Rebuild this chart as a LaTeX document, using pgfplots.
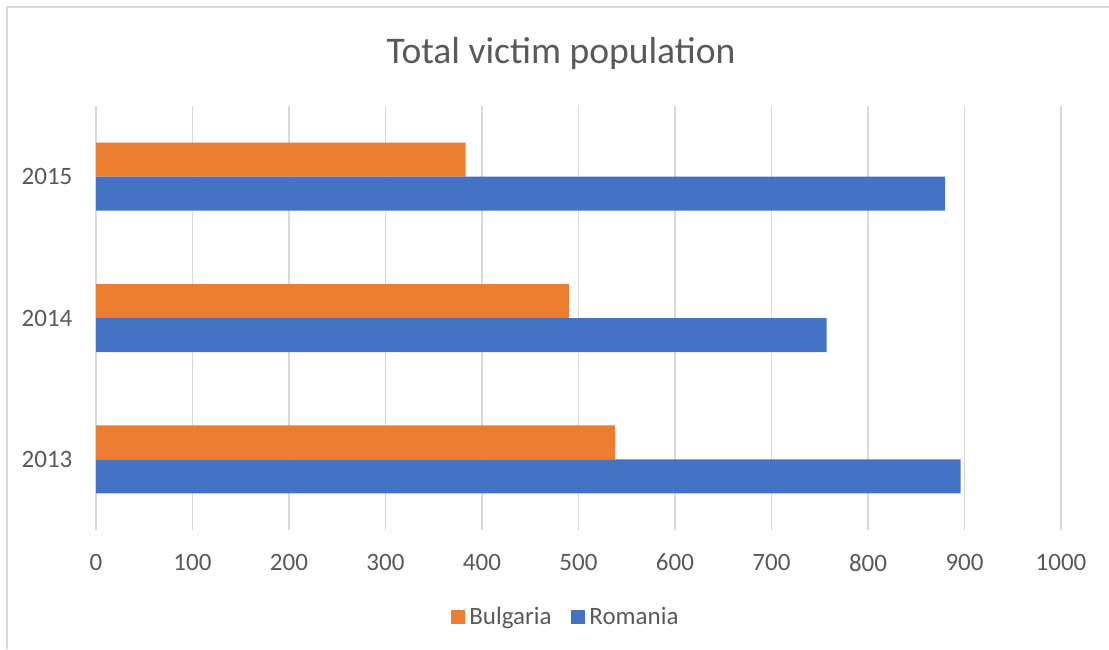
\documentclass[border=0pt]{standalone}
\usepackage{pgfplots}
\pgfplotsset{compat=1.18}
\usepackage{fontspec}
\setmainfont{Carlito}
\definecolor{bulg}{HTML}{ED7D31}
\definecolor{roma}{HTML}{4472C4}
\definecolor{txt}{HTML}{595959}
\definecolor{grd}{HTML}{D9D9D9}
\begin{document}
\begin{tikzpicture}
\path[use as bounding box] (0,0) rectangle (554.5pt,324.5pt);
\draw[grd, line width=0.75pt] (3.5pt,0) -- (3.5pt,321pt) -- (560pt,321pt);
\node[text=txt, font=\fontsize{18.8}{22}\selectfont] at (280.5pt,298pt) {Total victim population};
\begin{axis}[
  at={(48pt,59.5pt)}, anchor=south west,
  scale only axis, width=482.5pt, height=212pt,
  xbar, bar width=17pt,
  xmin=0, xmax=1000, ymin=-0.5, ymax=2.5,
  xtick={0,100,...,1000},
  ytick={0,1,2}, yticklabels={2013,2014,2015},
  xmajorgrids, major grid style={grd, line width=0.8pt},
  axis line style={draw=none},
  major tick style={draw=none},
  tick label style={text=txt, font=\fontsize{12.5}{15}\selectfont},
  /pgf/number format/assume math mode=true,
  /pgf/number format/1000 sep={},
  xticklabel style={yshift=-8.5pt},
  yticklabel style={xshift=-4pt},
  legend style={at={(0.488,-0.205)}, anchor=center, draw=none, fill=none,
    legend columns=-1, font=\fontsize{12.5}{15}\selectfont, text=txt,
    /tikz/every even column/.append style={column sep=8pt}},
  legend image code/.code={\fill[#1] (0pt,-3.5pt) rectangle (7pt,3.5pt);},
]
\addplot[fill=bulg, draw=none, bar shift=8.5pt] coordinates {(538,0) (490,1) (383,2)};
\addplot[fill=roma, draw=none, bar shift=-8.5pt] coordinates {(896,0) (757,1) (880,2)};
\legend{Bulgaria, Romania}
\end{axis}
\end{tikzpicture}
\end{document}
